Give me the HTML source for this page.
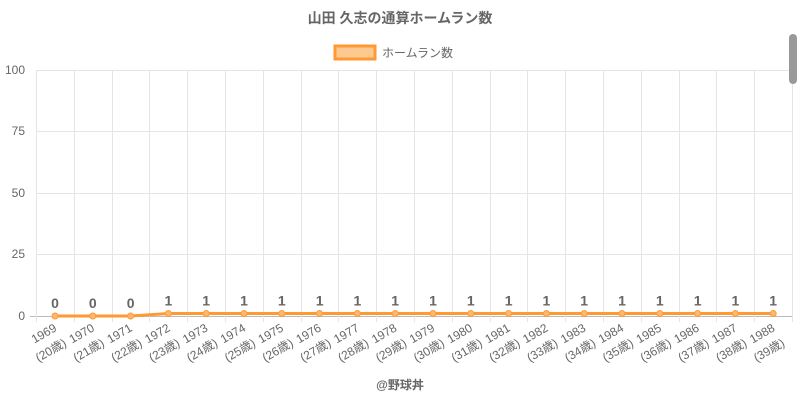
<!DOCTYPE html>
<html><head><meta charset="utf-8"><style>
body{margin:0;background:#fff;width:800px;height:400px;overflow:hidden}
text{font-family:"Liberation Sans","Noto Sans CJK JP",sans-serif}
</style></head><body>
<svg width="800" height="400" xmlns="http://www.w3.org/2000/svg">
<text x="400" y="23" text-anchor="middle" font-size="14" font-weight="bold" fill="#666">山田 久志の通算ホームラン数</text>
<rect x="335" y="46" width="40" height="13" fill="#fcc990" stroke="#ff9933" stroke-width="3"/>
<text x="382" y="57" font-size="12" fill="#666">ホームラン数</text>
<g stroke="#e5e5e5" stroke-width="1">
<line x1="36" y1="70.5" x2="792" y2="70.5"/>
<line x1="36" y1="131.5" x2="792" y2="131.5"/>
<line x1="36" y1="193.5" x2="792" y2="193.5"/>
<line x1="36" y1="254.5" x2="792" y2="254.5"/>
</g>
<line x1="30" y1="316.5" x2="792" y2="316.5" stroke="#bbb"/>
<g id="vg" stroke="#e5e5e5"></g>
<g font-size="12" fill="#666" text-anchor="end">
<text x="25" y="74">100</text><text x="25" y="135">75</text><text x="25" y="197">50</text><text x="25" y="258">25</text><text x="25" y="320">0</text>
</g>
<g id="xl" font-size="12" fill="#666" text-anchor="end"></g>
<polyline id="ln" fill="none" stroke="#ff9933" stroke-width="3"/>
<g id="pts" fill="#fcb870" stroke="#ff9933"></g>
<g id="vl" font-size="14" font-weight="bold" fill="#666" text-anchor="middle"></g>
<text x="400" y="389" text-anchor="middle" font-size="12" font-weight="bold" fill="#666">@野球丼</text>
<rect x="789" y="34" width="8" height="50" rx="4" fill="#999"/>
</svg>
<script>
var ns="http://www.w3.org/2000/svg",step=37.8,pts=[];
function el(t,a,p,tx){var e=document.createElementNS(ns,t);for(var k in a)e.setAttribute(k,a[k]);if(tx!=null)e.textContent=tx;document.getElementById(p).appendChild(e);return e;}
for(var i=0;i<=20;i++){var x=Math.round(36+i*step)+.5;el('line',{x1:x,y1:70,x2:x,y2:322},'vg');}
for(var i=0;i<20;i++){var x=55+i*step,v=i<3?0:1,y=316-v*2.46;pts.push(x+','+y);
el('circle',{cx:x,cy:y,r:3},'pts');el('text',{x:x,y:y-8},'vl',v);
var g=el('g',{transform:'rotate(-30 '+(x)+' 326)'},'xl');
var t=document.createElementNS(ns,'text');t.setAttribute('x',x);t.setAttribute('y',331);t.textContent=1969+i;g.appendChild(t);
var t2=document.createElementNS(ns,'text');t2.setAttribute('x',x+1);t2.setAttribute('y',349);t2.textContent='('+(20+i)+'歳)';g.appendChild(t2);}
document.getElementById('ln').setAttribute('points',pts.join(' '));
</script>
</body></html>
